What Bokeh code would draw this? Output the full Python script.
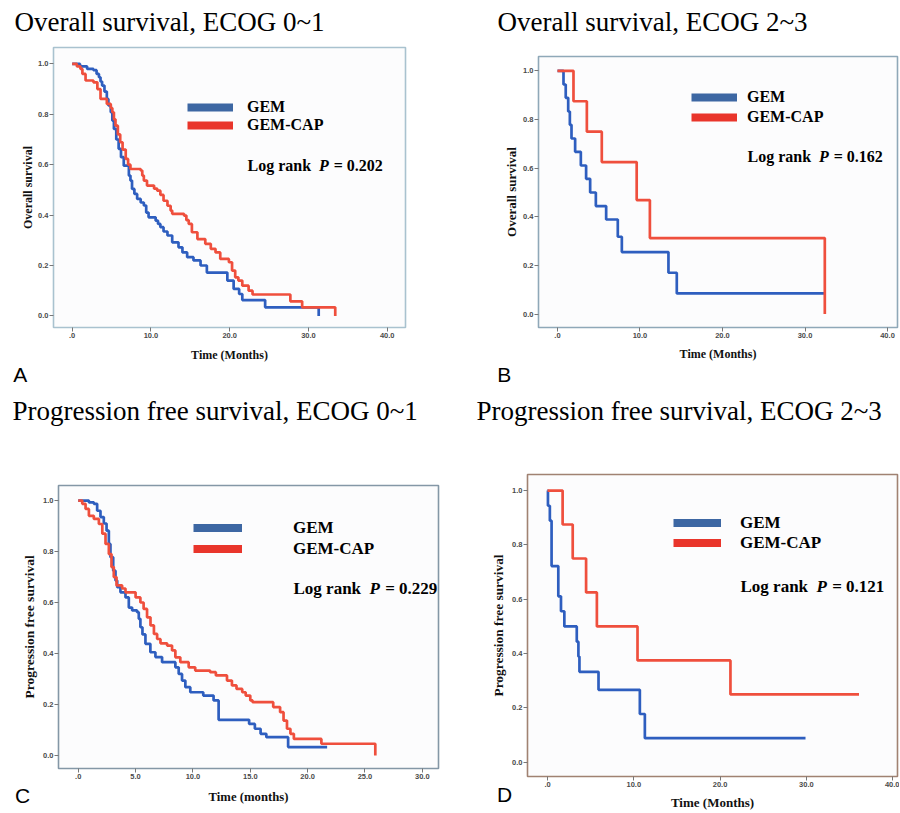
from bokeh.plotting import figure
from bokeh.models import (Label, Legend, LegendItem, Range1d, FixedTicker,
                          CustomJSTickFormatter, ColumnDataSource)
from bokeh.layouts import row, column
from bokeh.embed import file_html
from bokeh.resources import INLINE

# ---------------- data ----------------
Y_TICKS = [0.0, 0.2, 0.4, 0.6, 0.8, 1.0]
X_TICKS_40 = [0, 10, 20, 30, 40]
X_TICKS_30 = [0, 5, 10, 15, 20, 25, 30]

# A: Overall survival, ECOG 0~1
A_gem_t = [0, 1.0, 1.9, 2.7, 3.1, 3.4, 3.6, 3.8, 4.1, 4.4, 4.6, 4.9, 5.1, 5.3, 5.6, 5.9, 6.2, 6.55, 7.2, 7.4,
           7.6, 7.9, 8.25, 8.7, 9.1, 9.4, 9.7, 10.6, 10.9, 11.2, 11.6, 12.1, 12.7, 13.5, 14.0, 14.6, 15.4, 16.3,
           17.1, 19.7, 20.5, 21.2, 21.6, 24.5, 31.3]
A_gem_s = [1.0, 0.99, 0.98, 0.975, 0.96, 0.947, 0.93, 0.914, 0.89, 0.861, 0.835, 0.808, 0.775, 0.742, 0.70,
           0.663, 0.63, 0.596, 0.557, 0.537, 0.504, 0.484, 0.464, 0.45, 0.438, 0.41, 0.391, 0.378, 0.365, 0.352,
           0.335, 0.319, 0.292, 0.272, 0.252, 0.233, 0.22, 0.20, 0.172, 0.14, 0.107, 0.087, 0.063, 0.034, 0.0]
A_cap_t = [0, 0.6, 1.05, 1.3, 1.7, 2.7, 3.2, 3.6, 4.4, 4.9, 5.1, 5.3, 5.5, 5.8, 6.1, 6.4, 6.8, 7.1, 7.4, 8.7,
           8.9, 9.1, 9.5, 10.4, 10.8, 11.2, 11.6, 12.1, 12.5, 12.7, 14.2, 14.5, 14.8, 15.2, 15.9, 16.9, 17.6,
           18.2, 18.8, 19.9, 20.3, 20.7, 21.1, 21.6, 22.4, 22.9, 27.7, 29.2, 33.4]
A_cap_s = [1.0, 0.99, 0.98, 0.96, 0.934, 0.927, 0.90, 0.861, 0.841, 0.825, 0.808, 0.78, 0.755, 0.72, 0.689,
           0.66, 0.623, 0.60, 0.583, 0.577, 0.557, 0.537, 0.517, 0.505, 0.497, 0.48, 0.457, 0.437, 0.418, 0.405,
           0.398, 0.38, 0.365, 0.332, 0.305, 0.286, 0.266, 0.252, 0.226, 0.213, 0.18, 0.153, 0.14, 0.12, 0.10,
           0.085, 0.058, 0.034, 0.0]

# B: Overall survival, ECOG 2~3
B_gem_t = [0, 0.73, 1.0, 1.3, 1.5, 1.7, 2.14, 2.83, 3.47, 3.96, 4.65, 5.9, 7.31, 7.8, 13.45, 14.46, 32.3]
B_gem_s = [1.0, 0.944, 0.889, 0.833, 0.778, 0.722, 0.667, 0.611, 0.556, 0.50, 0.444, 0.389, 0.318, 0.255,
           0.17, 0.085, 0.085]
B_cap_t = [0, 1.94, 3.56, 5.37, 9.6, 11.2, 32.4]
B_cap_s = [1.0, 0.875, 0.75, 0.625, 0.469, 0.3125, 0.0]

# C: Progression free survival, ECOG 0~1
C_gem_t = [0, 0.93, 1.36, 1.65, 1.94, 2.23, 2.47, 2.67, 2.81, 3.05, 3.25, 3.4, 3.68, 4.12, 4.41, 4.7, 5.13,
           5.28, 5.42, 5.6, 5.86, 6.29, 6.73, 7.31, 8.47, 8.76, 9.05, 9.34, 9.77, 10.9, 11.8, 12.24, 14.9, 15.4,
           15.9, 16.4, 18.3, 21.7]
C_gem_s = [1.0, 0.993, 0.987, 0.96, 0.935, 0.91, 0.882, 0.83, 0.778, 0.725, 0.686, 0.66, 0.64, 0.62, 0.58,
           0.569, 0.562, 0.536, 0.503, 0.475, 0.438, 0.405, 0.386, 0.366, 0.346, 0.32, 0.294, 0.268, 0.248,
           0.235, 0.216, 0.14, 0.124, 0.105, 0.085, 0.072, 0.033, 0.033]
C_cap_t = [0, 0.35, 0.64, 0.93, 1.36, 1.8, 2.1, 2.38, 2.67, 2.9, 3.1, 3.34, 3.83, 4.12, 5.0, 5.42, 5.7, 6.0,
           6.3, 6.6, 6.88, 7.17, 7.75, 8.18, 8.47, 8.9, 9.63, 10.2, 11.5, 12.0, 12.97, 13.4, 13.8, 14.3, 14.6,
           15.0, 15.2, 17.0, 17.6, 17.9, 18.2, 18.5, 18.8, 21.2, 25.9]
C_cap_s = [1.0, 0.987, 0.967, 0.94, 0.928, 0.908, 0.87, 0.83, 0.79, 0.739, 0.70, 0.667, 0.655, 0.64, 0.62,
           0.60, 0.575, 0.542, 0.51, 0.477, 0.457, 0.44, 0.431, 0.412, 0.385, 0.366, 0.346, 0.333, 0.327, 0.314,
           0.294, 0.275, 0.261, 0.248, 0.235, 0.216, 0.209, 0.19, 0.17, 0.137, 0.105, 0.085, 0.065, 0.046, 0.0]

# D: Progression free survival, ECOG 2~3
D_gem_t = [0, 0.05, 0.27, 0.47, 1.25, 1.56, 1.95, 3.39, 3.58, 3.7, 5.91, 10.7, 11.28, 29.9]
D_gem_s = [1.0, 0.944, 0.889, 0.722, 0.611, 0.556, 0.50, 0.444, 0.389, 0.333, 0.267, 0.178, 0.089, 0.089]
D_cap_t = [0, 1.75, 2.92, 4.47, 5.72, 10.43, 21.2, 36.1]
D_cap_s = [1.0, 0.875, 0.75, 0.625, 0.50, 0.375, 0.25, 0.25]

SERIES = ["GEM", "GEM-CAP"]
P_VALUES = ["0.202", "0.162", "0.229", "0.121"]
TITLES = ["Overall survival, ECOG 0~1", "Overall survival, ECOG 2~3",
          "Progression free survival, ECOG 0~1", "Progression free survival, ECOG 2~3"]
LETTERS = ["A", "B", "C", "D"]

# ---------------- styles / layout (pixel positions on the page) ----------------
GEM_BLUE = "#2e5ebf"
CAP_RED = "#ef4f3d"
LEG_BLUE = "#3d67a3"
LEG_RED = "#e9352b"

# box = (left, top, width, height) of each figure on the page; frame = (l, t, r, b) of its plot area
SPECS = [
    dict(box=(0, 0, 450, 395), frame=(53, 47, 405, 327), xr=(-2.37, 42.32), yr=(-0.046, 1.065),
         xticks=X_TICKS_40, outline="#a9c2cf", ylabel="Overall survival", xlabel="Time (Months)",
         ylab_size=12, xlab_size=12, ylab_sd=0, xlab_sd=7,
         bar_x=187, blue_y=107, red_y=125, bar_w=46, text_x=247, fsize=16, row_h=18,
         lr=(247, 170), title_xy=(14, 30), letter_xy=(19, 381), letter_w=14.0),
    dict(box=(450, 0, 449, 395), frame=(538, 56, 897, 327), xr=(-2.30, 41.21), yr=(-0.055, 1.059),
         xticks=X_TICKS_40, outline="#8fa8b8", ylabel="Overall survival", xlabel="Time (Months)",
         ylab_size=13, xlab_size=12, ylab_sd=1, xlab_sd=6,
         bar_x=691, blue_y=97, red_y=117, bar_w=46, text_x=747, fsize=16, row_h=18,
         lr=(747, 161), title_xy=(497, 30), letter_xy=(503, 381), letter_w=14.0),
    dict(box=(0, 395, 450, 417), frame=(58, 485, 438, 768), xr=(-1.72, 31.41), yr=(-0.051, 1.059),
         xticks=X_TICKS_30, outline="#8497a6", ylabel="Progression free survival", xlabel="Time (months)",
         ylab_size=13.5, xlab_size=12.7, ylab_sd=3, xlab_sd=8,
         bar_x=193, blue_y=529, red_y=549, bar_w=49, text_x=293, fsize=17, row_h=19,
         lr=(293, 593), title_xy=(12, 419), letter_xy=(20, 802), letter_w=15.2),
    dict(box=(450, 395, 449, 417), frame=(527, 474, 897, 777), xr=(-2.32, 40.56), yr=(-0.052, 1.059),
         xticks=X_TICKS_40, outline="#a08272", ylabel="Progression free survival", xlabel="Time (Months)",
         ylab_size=13.4, xlab_size=13, ylab_sd=3, xlab_sd=5,
         bar_x=673, blue_y=525, red_y=544, bar_w=48, text_x=740, fsize=17, row_h=19,
         lr=(740, 592), title_xy=(476, 419), letter_xy=(502, 802), letter_w=15.2),
]

SERIF = "Liberation Serif"
SANS = "Liberation Sans"
TICK_FONT_PX = 7.5
BASELINE_FIX = 0.32   # observed shift of the rendered baseline, in em


def text_label(s, x, y, size, font=SERIF, style="bold"):
    # y is measured upwards; shift so that the glyph baseline lands on the wanted spot
    return Label(x=x, y=y + BASELINE_FIX * size, x_units="screen", y_units="screen", text=s,
                 text_font=font, text_font_size=f"{size}px", text_font_style=style,
                 text_color="black", text_baseline="alphabetic", text_align="left")


def panel(spec, gem_t, gem_s, cap_t, cap_s, title, letter, pval):
    ox, oy, w, h = spec["box"]
    l, t, r, b = spec["frame"]
    p = figure(width=w, height=h, x_range=Range1d(*spec["xr"]), y_range=Range1d(*spec["yr"]),
               output_backend="svg", toolbar_location=None,
               min_border_left=l - ox, min_border_right=ox + w - r,
               min_border_top=t - oy, min_border_bottom=oy + h - b)
    p.outline_line_color = spec["outline"]
    p.outline_line_width = 1.6
    p.background_fill_color = "#fcfcfd"
    p.border_fill_color = "white"
    p.grid.visible = False

    p.xaxis.ticker = FixedTicker(ticks=spec["xticks"])
    p.xaxis.formatter = CustomJSTickFormatter(code="return tick == 0 ? '.0' : tick.toFixed(1);")
    p.yaxis.ticker = FixedTicker(ticks=Y_TICKS)
    p.yaxis.formatter = CustomJSTickFormatter(code="return tick.toFixed(1);")
    for ax in p.axis:
        ax.axis_line_color = None
        ax.major_tick_line_color = "#777777"
        ax.major_tick_out = 4
        ax.major_tick_in = 0
        ax.minor_tick_line_color = None
        ax.minor_tick_out = 0
        ax.major_label_standoff = 1
        ax.major_label_text_font = SANS
        ax.major_label_text_font_size = f"{TICK_FONT_PX}px"
        ax.major_label_text_color = "#4a4a4a"
        ax.major_label_text_font_style = "bold"
        ax.axis_label_text_font = SERIF
        ax.axis_label_text_font_style = "bold"
        ax.axis_label_text_color = "#111111"
    p.xaxis.axis_label = spec["xlabel"]
    p.yaxis.axis_label = spec["ylabel"]
    p.xaxis.axis_label_text_font_size = f"{spec['xlab_size']}px"
    p.yaxis.axis_label_text_font_size = f"{spec['ylab_size']}px"
    p.xaxis.axis_label_standoff = spec["xlab_sd"]
    p.yaxis.axis_label_standoff = spec["ylab_sd"]

    src_g = ColumnDataSource(dict(t=gem_t, s=gem_s))
    src_c = ColumnDataSource(dict(t=cap_t, s=cap_s))
    p.step("t", "s", source=src_g, mode="after", line_width=2.7, line_color=GEM_BLUE)
    p.step("t", "s", source=src_c, mode="after", line_width=2.7, line_color=CAP_RED)

    # legend: thick sample bars (their renderers sit on a spare range, out of view)
    p.extra_y_ranges = {"legend_only": Range1d(10, 11)}
    dg = p.line("t", "s", source=src_g, y_range_name="legend_only", line_width=8, line_color=LEG_BLUE)
    dc = p.line("t", "s", source=src_c, y_range_name="legend_only", line_width=8, line_color=LEG_RED)
    rh = spec["row_h"]
    leg_bottom = spec["red_y"] + rh / 2
    legend = Legend(items=[LegendItem(label=SERIES[0], renderers=[dg]),
                           LegendItem(label=SERIES[1], renderers=[dc])],
                    location=(spec["bar_x"] - l, b - leg_bottom),
                    glyph_width=spec["bar_w"], glyph_height=rh, label_height=rh,
                    spacing=int(round(spec["red_y"] - spec["blue_y"] - rh)),
                    label_standoff=spec["text_x"] - spec["bar_x"] - spec["bar_w"],
                    padding=0, margin=0, border_line_color=None, background_fill_alpha=0,
                    label_text_font=SERIF, label_text_font_style="bold",
                    label_text_font_size=f"{spec['fsize']}px", label_text_color="black")
    p.add_layout(legend)

    # Log rank P = ...  (frame-relative)
    fs = spec["fsize"]
    lx, ly = spec["lr"]
    p.add_layout(text_label("Log rank", lx - l, b - ly, fs))
    p.add_layout(text_label("P", lx + fs * 4.473 - l, b - ly, fs, style="bold italic"))
    p.add_layout(text_label("= " + pval, lx + fs * 5.39 - l, b - ly, fs))

    # panel title: in the panel above the frame (its bottom edge is the frame top)
    tx, ty = spec["title_xy"]
    p.add_layout(text_label(title, tx - l, t - ty, 27, style="normal"), "above")

    # panel letter: in the left panel, outside the y axis (its bottom edge is the frame bottom)
    axis_w = 4 + 1 + 1.39 * TICK_FONT_PX + spec["ylab_sd"] + 1.107 * spec["ylab_size"]
    panel_left = l - axis_w - spec["letter_w"]
    gx, gy = spec["letter_xy"]
    p.add_layout(text_label(letter, gx - panel_left, b - gy, 21, font=SANS, style="normal"), "left")
    return p


pA = panel(SPECS[0], A_gem_t, A_gem_s, A_cap_t, A_cap_s, TITLES[0], LETTERS[0], P_VALUES[0])
pB = panel(SPECS[1], B_gem_t, B_gem_s, B_cap_t, B_cap_s, TITLES[1], LETTERS[1], P_VALUES[1])
pC = panel(SPECS[2], C_gem_t, C_gem_s, C_cap_t, C_cap_s, TITLES[2], LETTERS[2], P_VALUES[2])
pD = panel(SPECS[3], D_gem_t, D_gem_s, D_cap_t, D_cap_s, TITLES[3], LETTERS[3], P_VALUES[3])

# each figure sits in its own column so that its borders are kept as given
top_row = row(column(pA, spacing=0), column(pB, spacing=0), spacing=0)
bottom_row = row(column(pC, spacing=0), column(pD, spacing=0), spacing=0)
layout = column(top_row, bottom_row, spacing=0)
open("out.html", "w").write(file_html(layout, INLINE))
